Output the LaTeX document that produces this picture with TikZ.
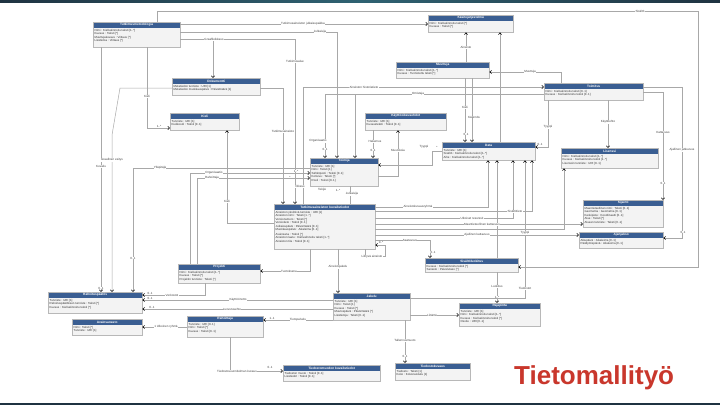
\documentclass[tikz,border=0pt]{standalone}
\usepackage{fontspec}
\setmainfont{Liberation Sans}
\usetikzlibrary{arrows.meta}
\definecolor{hdr}{HTML}{3A5E92}
\definecolor{bodyc}{HTML}{F3F3F3}
\definecolor{bord}{HTML}{B8B8B8}
\definecolor{ln}{HTML}{A8A8A8}
\definecolor{ttl}{HTML}{C9372C}
\definecolor{band}{HTML}{1F3341}
\definecolor{bandmid}{HTML}{2F6272}
\tikzset{
 cls/.style={draw=bord, fill=bodyc, line width=0.4pt, inner sep=0pt, rectangle,
   path picture={\fill[hdr] (path picture bounding box.north west) rectangle ([yshift=-6pt]path picture bounding box.north east);}},
 clstitle/.style={text=white, font=\bfseries\fontsize{3.2}{3.6}\selectfont, inner sep=0pt},
 clsattr/.style={text=black!80, font=\fontsize{2.9}{3.5}\selectfont, align=left, inner sep=0pt},
 conn/.style={draw=ln, line width=0.5pt},
 arr/.style={conn, -{Straight Barb[length=1.8pt,width=3.2pt,line width=0.55pt,color=black]}},
 rarr/.style={conn, {Straight Barb[length=1.8pt,width=3.2pt,line width=0.55pt,color=black]}-},
 lbl/.style={fill=white, inner sep=0.4pt, text=black!75, font=\fontsize{3}{3.4}\selectfont},
}
\newcommand{\umlcls}[7]{%
 \node[cls, minimum width=#4pt, minimum height=#5pt, anchor=north west] (#1) at (#2,#3) {};
 \node[clstitle] (#1t) at ([yshift=-3pt]#1.north) {#6};
 \node[clsattr, anchor=north west] (#1a) at ([shift={(1.5pt,-7pt)}]#1.north west) {#7};
}
\begin{document}
\begin{tikzpicture}[x=1pt,y=-1pt]
\useasboundingbox (0,0) rectangle (720,405);
\fill[white] (0,0) rectangle (720,405);
\shade[left color=band, right color=band, middle color=bandmid] (0,0) rectangle (720,2.7);
\fill[band] (0,402.5) rectangle (720,405);

% ---------- classes ----------
\umlcls{tm}{93}{22}{87}{25}{Tutkimusmetodologia}{Nimi : Kielivalinnoitu teksti [1..*]\\Kuvaus : Teksti [*]\\Muuttujakuvaus : Viittaus [*]\\Lisätietoa : Viittaus [*]}
\umlcls{kp}{428}{15}{85}{17}{Käsitejärjestelmä}{Nimi : Kielivalinnoitu teksti [*]\\Kuvaus : Teksti [*]}
\umlcls{mu}{396}{62}{93}{16}{Muuttuja}{Nimi : Kielivalinnoitu teksti [1..*]\\Kuvaus : Tunnistettu teksti [*]}
\umlcls{to}{544}{83}{99}{17}{Toimitus}{Nimi : Kielivalinnoitu teksti [0..1]\\Kuvaus : Kielivalinnoitu teksti [0..1]}
\umlcls{dk}{172}{78}{88}{17}{Dokumentti}{Metatiedon tunniste : URI [1]\\Metatiedon muokkauspäivä : Päivämäärä [1]}
\umlcls{ki}{170}{113}{69}{17}{Kieli}{Tunniste : URI [1]\\Kielikoodi : Teksti [0..1]}
\umlcls{ko}{365}{113}{81}{17}{Käyttöoikeusehdot}{Tunniste : URI [1]\\Kuvausteksti : Teksti [0..1]}
\umlcls{da}{442}{142}{93}{18}{Data}{Tunniste : URI [1]\\Sisältö : Kielivalinnoitu teksti [1..*]\\Aihe : Kielivalinnoitu teksti [1..*]}
\umlcls{tj}{310}{158}{68}{28}{Toimija}{Tunniste : URI [1]\\Nimi : Teksti [1]\\Sähköposti : Teksti [0..1]\\Kotisivu : Teksti [*]\\Rooli : Teksti [0..1]}
\umlcls{bb}{274}{204}{101}{45}{Tutkimusaineiston kuvailutiedot}{Aineiston yksilöivä tunniste : URI [1]\\Aineiston nimi : Teksti [1..*]\\Versionumero : Teksti [*]\\Versiotieto : Teksti [0..1]\\Julkaisupäivä : Päivämäärä [0..1]\\Muokkauspäivä : Aikaleima [0..1]\\[1pt]Avainsana : Teksti [*]\\Aineiston laatu : Kielivalinnoitu teksti [1..*]\\Aineiston tila : Teksti [0..1]}
\umlcls{li}{561}{148}{97}{20}{Lisenssi}{Nimi : Kielivalinnoitu teksti [1..*]\\Kuvaus : Kielivalinnoitu teksti [1..*]\\Lisenssin tunniste : URI [0..1]}
\umlcls{si}{583}{200}{80}{27}{Sijainti}{Maantieteellinen nimi : Teksti [0..1]\\Geometria : Geometria [0..1]\\Keskipiste : Koordinaatti [0..1]\\Alue : Teksti [*]\\Alueen tunniste : Teksti [0..1]}
\umlcls{aj}{579}{232}{84}{16}{Ajanjakso}{Alkupäivä : Aikaleima [0..1]\\Päättymispäivä : Aikaleima [0..1]}
\umlcls{sl}{425}{258}{93}{14}{Sisältöluokitus}{Kuvaus : Kielivalinnoitu teksti [*]\\Sanasto : Palvelutaso [*]}
\umlcls{pr}{178}{264}{82}{19}{Projekti}{Nimi : Kielivalinnoitu teksti [1..*]\\Kuvaus : Teksti [*]\\Projektin tunniste : Teksti [*]}
\umlcls{rp}{48}{292}{94}{21}{Rahoituspäätös}{Tunniste : URI [1]\\Rahoituspäätöksen tunniste : Teksti [*]\\Kuvaus : Kielivalinnoitu teksti [*]}
\umlcls{hk}{72}{319}{70}{16}{Avainsanasto}{Nimi : Teksti [*]\\Tunniste : URI [1]}
\umlcls{rh}{187}{316}{76}{21}{Rahoittaja}{Tunniste : URI [0..1]\\Nimi : Teksti [*]\\Kuvaus : Teksti [0..1]}
\umlcls{ja}{333}{293}{77}{27}{Jakelu}{Tunniste : URI [1]\\Nimi : Teksti [1]\\Kuvaus : Teksti [*]\\Muutospäivä : Päivämäärä [*]\\Lisätietoja : Teksti [0..1]}
\umlcls{as}{459}{303}{81}{23}{Rajapinta}{Tunniste : URI [1]\\Nimi : Kielivalinnoitu teksti [1..*]\\Kuvaus : Kielivalinnoitu teksti [*]\\Osoite : URI [0..1]}
\umlcls{te}{283}{365}{97}{16}{Tiedostomuodon kuvailutiedot}{Tiedoston muoto : Teksti [0..1]\\Lisätiedot : Teksti [0..1]}
\umlcls{tf}{395}{363}{75}{17}{Tiedostokuvaus}{Tiedosto : Teksti [1]\\Koko : Kokonaisluku [1]}

% ---------- connectors ----------
\coordinate (j1) at (213,39);
\coordinate (j2) at (355,94);
\coordinate (j3) at (682,238);
\coordinate (j4) at (432,151);
\coordinate (j5) at (120,88);
\coordinate (j6) at (112,135);
\coordinate (j7) at (385,245);
\coordinate (j8) at (365,256);

\draw[arr] (tm.north -| 157,0) |- (698,11) |- (sl.east |- 0,267);
\draw[arr] (tm.east |- 0,24) -- (kp.west |- 0,24);
\draw[arr] (tm.east |- 0,32) -| (tj.north -| 337,0);
\draw[arr] (tm.east |- 0,39) -| (bb.north -| 295,0);
\draw[arr] (j1) -- (dk.north -| j1);
\draw[arr] (tm.south -| 101,0) -- (rp.north -| 101,0);
\draw[arr] (dk.west |- j5) -- (j5) -- (j6) -- (rp.north -| j6);
\draw[arr] (tm.south -| 147,0) |- (ki.west |- 0,128);
\draw[arr] (tj.west |- 0,168) -| (rp.north -| 133,0);
\draw[rarr] (tj.west |- 0,173) -| (pr.north -| 190,0);
\draw[rarr] (tj.west |- 0,178) -| (pr.north -| 197,0);
\draw[arr] (dk.east |- 0,88) -| (bb.north -| 283,0);
\draw[arr] (bb.north -| 303,0) |- (to.west |- 0,87);
\draw[arr] (to.west |- j2) -| (tj.north -| 325,0);
\draw[arr] (j2) -- (tj.north -| j2);
\draw[rarr] (kp.south -| 466,0) -- (mu.north -| 466,0);
\draw[rarr] (kp.south -| 500,0) -- (da.north -| 500,0);
\draw[arr] (mu.south -| 465,0) -- (da.north -| 465,0);
\draw[arr] (mu.south -| 472,0) -- (da.north -| 472,0);
\draw[arr] (to.north -| 561,0) |- (mu.east |- 0,72);
\draw[arr] (to.south -| 548,0) |- (da.east |- 0,147);
\draw[arr] (to.south -| 608,0) -- (li.north -| 608,0);
\draw[arr] (to.east |- 0,87) -| (j3) -- (aj.east |- j3);
\draw[arr] (to.east |- 0,92) -| (si.north -| 663,0);
\draw[arr] (bb.east |- 0,207) -| (da.south -| 488,0);
\draw[arr] (bb.east |- 0,211) -| (da.south -| 532,0);
\draw[arr] (bb.east |- 0,218) -| (da.south -| 513,0);
\draw[arr] (bb.east |- 0,224) -- (si.west |- 0,224);
\draw[arr] (bb.east |- 0,229) -| (li.south -| 564,0);
\draw[arr] (bb.east |- 0,235) -- (aj.west |- 0,235);
\draw[arr] (bb.east |- 0,240) -| (sl.north -| 430,0);
\draw[rarr] (bb.east |- j7) -- (j7) |- (j8) -- (bb.south -| j8);
\draw[arr] (sl.north -| 497,0) -- (da.south -| 497,0);
\draw[arr] (sl.south -| 497,0) -- (as.north -| 497,0);
\draw[arr] (ja.east |- 0,298) -| (da.south -| 525,0);
\draw[arr] (bb.south -| 310,0) |- (pr.east |- 0,271);
\draw[arr] (bb.south -| 338,0) -- (ja.north -| 338,0);
\draw[arr] (pr.south -| 205,0) |- (rp.east |- 0,295);
\draw[arr] (ja.west |- 0,300) -- (rp.east |- 0,300);
\draw[arr] (ja.west |- 0,309) -- (rp.east |- 0,309);
\draw[arr] (ja.west |- 0,320) -- (rh.east |- 0,320);
\draw[arr] (rh.west |- 0,327) -- (hk.east |- 0,327);
\draw[arr] (rh.south -| 230,0) |- (te.west |- 0,371);
\draw[arr] (ja.east |- 0,315) -- (as.west |- 0,315);
\draw[arr] (ja.south -| 405,0) -- (tf.north -| 405,0);
\draw[rarr] (ki.south -| 227,0) |- (bb.west |- 0,223);
\draw[rarr] (tj.east |- 0,165) -| (j4) -- (da.west |- j4);
\draw[arr] (tj.east |- 0,176) -| (ko.south -| 398,0);
\draw[arr] (ko.south -| 373,0) -- (tj.north -| 373,0);
\draw[conn] (tj.south -| 350,0) -- (bb.north -| 350,0);

% ---------- labels ----------
\node[lbl] (l0) at (640,11) {Sisältö};
\node[lbl] (l1) at (303,24) {Tutkimusaineiston julkaisupaikka};
\node[lbl] (l2) at (320,32) {Julkaisija};
\node[lbl] (l3) at (214,39) {Graafileikkaus};
\node[lbl] (l4) at (295,61) {Tutkimusalue};
\node[lbl] (l5) at (101,166) {Kuvailu};
\node[lbl] (l6) at (101,288) {0..1};
\node[lbl] (l7) at (112,160) {Graafinen esitys};
\node[lbl] (l8) at (147,96) {Kieli};
\node[lbl] (l9) at (159,126) {1..*};
\node[lbl] (l10) at (160,168) {Ylläpitäjä};
\node[lbl] (l11) at (133,258) {0..1};
\node[lbl] (l12) at (214,173) {Organisaatio};
\node[lbl] (l13) at (212,178) {Rahoittaja};
\node[lbl] (l14) at (296,171) {1..*};
\node[lbl] (l15) at (290,177) {*};
\node[lbl] (l16) at (283,131) {Tutkimusaineisto};
\node[lbl] (l17) at (364,87) {Aineiston historiatieto};
\node[lbl] (l18) at (418,94) {Omistaja};
\node[lbl] (l19) at (318,141) {Organisaatio};
\node[lbl] (l20) at (325,149) {0..1};
\node[lbl] (l21) at (466,47) {Aineisto};
\node[lbl] (l22) at (465,107) {Kieli};
\node[lbl] (l23) at (474,117) {Käännös};
\node[lbl] (l24) at (466,134) {0..1};
\node[lbl] (l25) at (530,72) {Muuttuja};
\node[lbl] (l26) at (548,127) {Tyyppi};
\node[lbl] (l27) at (540,144) {0..1};
\node[lbl] (l28) at (608,122) {Käyttöehto};
\node[lbl] (l29) at (682,150) {Ajallinen jatkuvuus};
\node[lbl] (l30) at (683,232) {0..1};
\node[lbl] (l31) at (663,132) {Kattavuus};
\node[lbl] (l32) at (663,183) {0..1};
\node[lbl] (l33) at (418,207) {Aineistokuvausryhmä};
\node[lbl] (l34) at (515,211) {Sisältötieto};
\node[lbl] (l35) at (472,218) {Ulkoiset resurssit};
\node[lbl] (l36) at (482,224) {Maantieteellinen kattavuus};
\node[lbl] (l37) at (477,235) {Ajallinen kattavuus};
\node[lbl] (l38) at (410,240) {Saatavuus};
\node[lbl] (l39) at (433,252) {0..1};
\node[lbl] (l40) at (381,242) {0..*};
\node[lbl] (l41) at (372,257) {Liittyvä aineisto};
\node[lbl] (l42) at (497,286) {Luokitus};
\node[lbl] (l43) at (497,297) {1..*};
\node[lbl] (l44) at (525,233) {Tyyppi};
\node[lbl] (l45) at (525,288) {Tiedostot};
\node[lbl] (l46) at (289,271) {Tuotoksena};
\node[lbl] (l47) at (338,267) {Aineistojakelu};
\node[lbl] (l48) at (150,293) {0..1};
\node[lbl] (l49) at (172,295) {Verkostot};
\node[lbl] (l50) at (238,300) {Käyttöönotto};
\node[lbl] (l51) at (150,298) {0..1};
\node[lbl] (l52) at (232,309) {Luovutusehto};
\node[lbl] (l53) at (152,307) {0..1};
\node[lbl] (l54) at (272,318) {1..1};
\node[lbl] (l55) at (298,320) {Tietopalvelu};
\node[lbl] (l56) at (166,327) {1 Ulkoinen ryhmä};
\node[lbl] (l57) at (237,371) {Tiedostosuunnitelman kuvaus};
\node[lbl] (l58) at (270,367) {0..1};
\node[lbl] (l59) at (432,315) {Liitäntä};
\node[lbl] (l60) at (405,340) {Tallennusmuoto};
\node[lbl] (l61) at (405,356) {0..1};
\node[lbl] (l62) at (227,201) {Kieli};
\node[lbl] (l63) at (424,147) {Tyyppi};
\node[lbl] (l64) at (437,147) {*};
\node[lbl] (l65) at (398,150) {Muutoksia};
\node[lbl] (l66) at (375,141) {Hakemus};
\node[lbl] (l67) at (373,150) {0..1};
\node[lbl] (l68) at (352,194) {Julkaisija};
\node[lbl] (l69) at (300,186) {Oikeus};
\node[lbl] (l70) at (322,190) {Tekijä};
\node[lbl] (l71) at (338,190) {1..*};

\node[font=\bfseries\fontsize{26}{26}\selectfont, text=ttl, anchor=west, inner sep=0pt] (title) at (514,378) {Tietomallityö};
\end{tikzpicture}
\end{document}
